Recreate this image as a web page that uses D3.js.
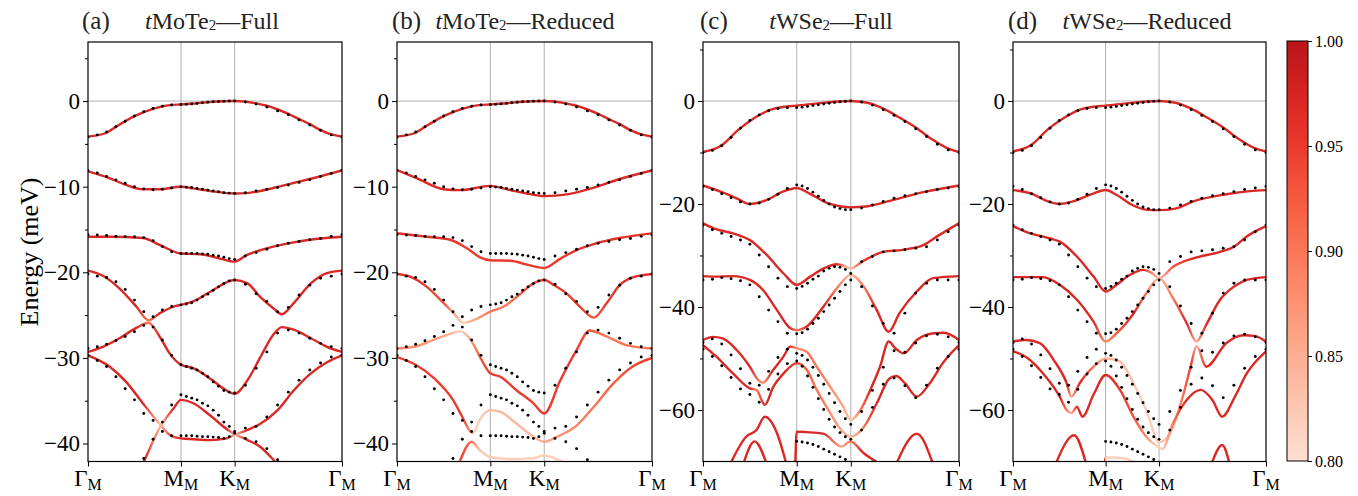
<!DOCTYPE html>
<html><head><meta charset="utf-8">
<script src="https://cdn.jsdelivr.net/npm/d3@7"></script>
<style>body{margin:0;background:#fff}</style>
</head><body>
<svg id="chart" width="1358" height="496"></svg>
<script>
// ---------------- DATA ----------------
// k-path index u: 0 = Γ, 10 = M, 20 = K, 30 = Γ (10 DFT k-points per segment)
const kTickIdx = [0, 10, 20, 30];
const kTickLabels = ["Γ", "M", "K", "Γ"];
const yTicksMoTe2 = [0, -10, -20, -30, -40];
const yMinorMoTe2 = [5, -5, -15, -25, -35];
const yTicksWSe2 = [0, -20, -40, -60];
const yMinorWSe2 = [10, -10, -30, -50];
const cbarTicks = [0.80, 0.85, 0.90, 0.95, 1.00];
const panelTags = ["(a)", "(b)", "(c)", "(d)"];
const panelMaterial = ["MoTe", "MoTe", "WSe", "WSe"];
const panelModel = ["Full", "Reduced", "Full", "Reduced"];

// DFT dots (energy in meV at u = 0..30), shared by Full / Reduced panels
const dotsMoTe2_1 = [-4.2,-3.95,-3.6,-3.0,-2.35,-1.75,-1.25,-0.85,-0.6,-0.45,-0.4,-0.38,-0.33,-0.27,-0.2,-0.14,-0.08,-0.04,-0.01,0,0,-0.1,-0.35,-0.7,-1.15,-1.6,-2.2,-2.8,-3.4,-3.95,-4.2];
const dotsMoTe2_2 = [-8.1,-8.4,-8.8,-9.2,-9.6,-10.0,-10.25,-10.35,-10.3,-10.15,-10.0,-10.05,-10.1,-10.2,-10.3,-10.4,-10.5,-10.6,-10.7,-10.75,-10.8,-10.7,-10.5,-10.3,-10.1,-9.8,-9.5,-9.2,-8.8,-8.45,-8.1];
const dotsMoTe2_3 = [-15.6,-15.65,-15.7,-15.8,-15.85,-15.85,-15.95,-16.3,-17.0,-17.6,-17.8,-17.8,-17.8,-17.8,-17.85,-17.9,-18.0,-18.1,-18.25,-18.4,-18.5,-18.1,-17.7,-17.3,-16.9,-16.6,-16.4,-16.2,-16.05,-15.8,-15.6];
const dotsMoTe2_4 = [-20.2,-20.45,-20.6,-21.1,-22.0,-23.25,-24.6,-25.2,-24.4,-24.0,-23.8,-23.7,-23.55,-23.25,-22.85,-22.55,-22.1,-21.7,-21.3,-21.0,-20.9,-21.4,-22.5,-23.4,-24.6,-24.1,-22.65,-21.5,-20.7,-20.45,-20.2];
const dotsMoTe2_5 = [-28.9,-28.7,-28.4,-28.0,-27.5,-26.95,-26.2,-26.4,-27.9,-29.7,-30.8,-31.0,-31.2,-31.4,-31.8,-32.2,-32.8,-33.3,-33.8,-34.0,-34.1,-33.2,-31.2,-29.3,-27.1,-26.75,-27.1,-27.7,-28.3,-28.7,-28.9];
const dotsMoTe2_6 = [-29.7,-30.3,-31.0,-32.2,-33.6,-34.9,-36.5,-37.3,-38.6,-39.1,-39.1,-39.1,-39.1,-39.15,-39.2,-39.2,-39.25,-39.3,-39.4,-39.2,-38.8,-38.2,-38.0,-36.9,-35.5,-34.0,-32.6,-31.4,-30.6,-29.9,-29.7];
const dotsMoTe2_7 = [null,null,null,null,null,null,-41.75,-39.5,-37.5,-35.5,-34.3,-34.5,-34.7,-34.9,-35.3,-35.6,-36.1,-36.7,-37.5,-38.0,-38.6,-39.4,-39.8,-40.6,-41.9,null,null,null,null,null,null];

const dotsWSe2_1 = [-10.0,-9.6,-8.7,-7.1,-5.3,-3.8,-2.7,-1.9,-1.45,-1.3,-1.3,-1.2,-1.05,-0.9,-0.75,-0.6,-0.45,-0.3,-0.15,-0.05,0,-0.2,-0.8,-1.7,-2.8,-4.0,-5.4,-6.9,-8.4,-9.5,-10.0];
const dotsWSe2_2 = [-16.6,-17.2,-18.0,-18.8,-19.6,-20.0,-19.8,-19.1,-18.1,-17.0,-16.3,-16.5,-17.0,-17.7,-18.5,-19.3,-20.0,-20.6,-20.9,-21.1,-21.1,-20.8,-20.2,-19.5,-18.9,-18.4,-18.0,-17.6,-17.2,-16.9,-16.6];
const dotsWSe2_3 = [-24.1,-25.0,-25.7,-26.3,-27.0,-27.8,-29.9,-32.2,-34.4,-36.05,-36.4,-36.0,-35.4,-34.6,-34.0,-33.0,-32.5,-32.2,-32.3,-32.7,-33.5,-31.2,-30.2,-29.3,-29.1,-28.9,-28.6,-28.3,-27.0,-25.4,-24.1];
const dotsWSe2_4 = [-34.75,-34.6,-34.3,-34.5,-34.9,-35.7,-38.0,-40.6,-42.85,-45.1,-45.2,-45.0,-44.3,-43.2,-42.2,-40.9,-39.6,-38.3,-37.0,-35.7,-34.75,-36.05,-39.8,-43.2,-45.1,-41.2,-37.3,-35.4,-34.75,-34.75,-34.75];
const dotsWSe2_5 = [-46.9,-46.2,-47.2,-49.3,-52.0,-54.8,-55.2,-52.5,-49.8,-48.2,-49.0,-49.4,-50.3,-51.7,-53.3,-55.0,-56.8,-58.6,-60.3,-61.7,-62.8,-60.3,-56.2,-51.7,-48.5,-48.8,-47.0,-45.6,-45.3,-45.8,-46.9];
const dotsWSe2_6 = [-48.2,-49.6,-51.4,-53.7,-55.9,-57.0,-58.5,-56.0,-53.0,-51.0,-50.5,-51.5,-53.4,-55.6,-57.8,-59.9,-61.8,-63.3,-64.4,-65.2,-65.7,-63.9,-59.5,-55.0,-53.8,-55.3,-57.6,-55.2,-51.9,-49.6,-48.2];
const dotsWSe2_7 = [null,null,null,null,null,null,null,null,null,null,-66.1,-66.2,-66.4,-66.7,-67.1,-67.6,-68.1,-68.6,-69.1,-69.6,null,null,null,null,null,null,null,null,null,null,null];

// Model bands: [u, energy (meV), weight (colour value 0.8..1)]
const bandsA = [
 [[0,-4.15],[2,-3.7],[3,-3.0],[5,-1.75],[7,-0.9],[9,-0.45],[10,-0.4],[13,-0.25],[16,-0.08],[20,0],[22,-0.27],[23,-0.55],[25,-1.5],[26,-2.1],[27,-2.7],[28,-3.4],[29,-3.9],[30,-4.15]],
 [[0,-8.2],[2.3,-9.0],[4.1,-9.8],[5.9,-10.3],[7.7,-10.3],[10,-10.0],[12.3,-10.2],[15.4,-10.5],[20,-10.8],[21.1,-10.75],[22.4,-10.5],[24.4,-9.9],[27,-9.1],[30,-8.1]],
 [[0,-15.85],[2.3,-15.85],[5.9,-16.0],[7.7,-16.8],[10,-17.8],[13.6,-17.9],[17.3,-18.4],[20,-18.75],[21.1,-18.0],[23,-17.2],[25.5,-16.5],[27,-16.2],[30,-15.85]],
 [[0,-19.8],[1.6,-20.4],[3.4,-21.9],[5.2,-24],[6.5,-25.6,0.9],[7.7,-24.8],[9.2,-24.0],[10,-23.8],[12.3,-23.4],[15.4,-22.3],[20,-20.9],[21.2,-21.3],[22.4,-22.9],[23.6,-24.2],[24.4,-24.9],[25.5,-23.6],[27.1,-21.3],[28.6,-20.1],[30,-19.8]],
 [[0,-29.3],[1.6,-28.7],[3.4,-27.7],[5.2,-26.5],[6.5,-25.9,0.9],[7.7,-27.5],[8.8,-29.5],[10,-30.8],[12.3,-31.2],[15.4,-32.4],[18.5,-33.8],[20,-34.2],[21.2,-32.6],[22.4,-29.9],[23.6,-27.3],[24.4,-26.4],[25.5,-26.7],[27.1,-27.7],[28.6,-28.7],[30,-29.3]],
 [[0,-29.7],[2.3,-31],[4.1,-32.8],[5.9,-35.3],[7.7,-37.7,0.84],[8.8,-39,0.93],[10,-39.4],[12.3,-39.5],[15.4,-39.6],[18.5,-39.4],[20,-39,0.84],[21.2,-38.4],[22.4,-37.7],[24,-36.1],[25.5,-33.8],[27.1,-31.8],[28.6,-30.5],[30,-29.7]],
 [[5.6,-43.1],[6.1,-41.9],[7.8,-38,0.84],[9.2,-35.9],[10,-34.9],[12.3,-35.3],[15.4,-36.7],[18.5,-38.3],[20,-38.9,0.84],[21.2,-39.6],[22.4,-40.4],[23.6,-41.9],[24.3,-42.9]]
];
const bandsB = [
 [[0,-4.15],[2,-3.7],[3,-3.0],[5,-1.75],[7,-0.9],[9,-0.45],[10,-0.4],[13,-0.25],[16,-0.08],[20,0],[22,-0.27],[23,-0.55],[25,-1.5],[26,-2.1],[27,-2.7],[28,-3.4],[29,-3.9],[30,-4.15]],
 [[0,-8.05],[2.1,-9.0],[5,-10.3],[6.8,-10.4],[10,-9.9],[13.7,-10.4],[16.8,-10.8],[20,-11.1],[22.1,-10.9],[24.6,-10.1],[27,-9.1],[30,-8.1]],
 [[0,-15.45,0.96],[3.2,-15.85,0.96],[5.7,-16.2,0.96],[7.5,-17.2,0.95],[8.9,-18.25,0.95],[10,-18.6,0.95],[13.7,-18.65,0.95],[16.8,-19.1,0.95],[20,-19.5,0.95],[21.5,-18.4,0.95],[23,-17.4,0.96],[24.6,-16.7,0.96],[27,-16.0,0.96],[30,-15.45,0.96]],
 [[0,-20.2,0.96],[1.4,-20.5,0.96],[3.2,-21.7,0.95],[5,-23.6,0.93],[6.1,-24.8,0.86],[7.1,-25.9,0.82],[8.2,-25.6,0.86],[10,-24.6,0.9],[12.5,-24.0,0.9],[15.6,-22.5,0.92],[18,-21.3,0.94],[20,-20.9,0.95],[20.9,-21.5,0.95],[22.1,-22.5,0.95],[23.3,-24.0,0.95],[24.6,-25.3,0.93],[25.8,-23.6,0.95],[27,-21.5,0.96],[28.2,-20.6,0.96],[30,-20.2,0.96]],
 [[0,-28.9,0.88],[1.8,-28.7,0.88],[3.9,-27.9,0.87],[5.4,-27.3,0.85],[6.8,-26.9,0.82],[7.9,-27.9,0.86],[8.9,-29.9,0.93],[10,-31.8,0.95],[11.85,-32.2,0.95],[14.9,-33.8,0.95],[18,-35.3,0.95],[20,-36.5,0.95],[21.5,-32.6,0.95],[23,-29.1,0.95],[24.2,-26.8,0.93],[25.8,-27.5,0.9],[27.6,-28.5,0.9],[30,-28.9,0.9]],
 [[0,-29.9,0.95],[2,-30.8,0.95],[4,-32.4,0.95],[6,-34.9,0.95],[7,-36.9,0.95],[7.86,-38.6,0.88],[8.14,-38.8,0.82],[8.93,-37.1,0.82],[10,-36.1,0.84],[11.85,-36.3,0.84],[14.9,-37.7,0.84],[18,-39.2,0.84],[20,-39.8,0.85],[21.2,-39.2,0.87],[23,-37.9,0.89],[24.6,-35.7,0.9],[26.4,-33.0,0.92],[28.2,-31.0,0.94],[30,-30,0.95]],
 [[6.8,-41.9,0.95],[8,-39.8,0.9],[8.9,-40.8,0.83],[10,-41.6,0.82],[13.7,-41.8,0.82],[18,-41.7,0.82],[20,-41.4,0.82],[20.9,-41.7,0.82],[21.8,-42.2,0.82]]
];
const bandsC = [
 [[0,-9.9],[2,-8.6],[3.7,-5.7],[5.4,-3.4],[7.1,-1.76],[8.8,-1.1],[10,-0.9],[13.9,-0.46],[17.6,-0.1],[20,0],[21.4,-0.3],[22.9,-1.4],[24.4,-3.1],[25.9,-5.0],[27.4,-7.3],[29,-9.25],[30,-9.9]],
 [[0,-16.4],[2,-17.7],[3.7,-19.0],[5,-20],[6.7,-19.3],[8.4,-17.7],[10,-16.9],[12.4,-18.0],[16.1,-20.0],[20,-20.65],[21.4,-20.5],[23.7,-19.35],[26.7,-17.7],[30,-16.4]],
 [[0,-23.75],[1.4,-24.9],[3.2,-25.7],[5,-27.0],[6.8,-29.9],[8.6,-33.5],[10,-35.7],[12.5,-34.1],[15,-32.5],[17.4,-31.7],[19.2,-32.2,0.85],[19.9,-32.5,0.83],[21.2,-31.0,0.95],[23,-29.3],[24.8,-28.9],[26.7,-28.0],[28.2,-26.0],[30,-23.75]],
 [[0,-34.0],[1.4,-34.1],[3.2,-34.0],[5,-34.75],[6.4,-36.7],[7.9,-40.6],[9.3,-44.1],[10,-44.5,0.9],[11.85,-43.8],[14.9,-40],[17.4,-36.4,0.9],[20,-33.8,0.83],[21.2,-36.05,0.9],[22.4,-40.6],[23.5,-44.8],[24.5,-41.2],[26.1,-37.0],[27.6,-34.4],[30,-34.0]],
 [[0,-46.4],[1.07,-45.8],[2.1,-46.1],[3.6,-48.35],[5,-51.6],[5.9,-54.2,0.9],[6.4,-54.7,0.88],[7.5,-52.2],[8.6,-49.6],[9.3,-47.7],[10,-48.0,0.88],[11.85,-48.7,0.9],[13.7,-51.6,0.9],[16.2,-55.5,0.88],[18.6,-59.35,0.86],[20,-61.9,0.83],[20.9,-60,0.9],[21.8,-56.1],[22.7,-51.6],[23.5,-46.7],[24.1,-48.0],[24.9,-49.0],[26.1,-46.4],[27.7,-45.1],[28.6,-45.0],[30,-46.4]],
 [[0,-47.4],[1.4,-49.6],[3.2,-52.9],[5,-55.8],[5.7,-56.1,0.9],[6.6,-59.0],[7.5,-55.5],[8.6,-52.9],[10,-50.9,0.95],[11.85,-52.2,0.92],[13.7,-56.1,0.9],[16.2,-60.6,0.88],[18,-63.6,0.86],[20,-65.2,0.84],[21.2,-63.3,0.9],[22.4,-58.7],[23.6,-53.85],[24.2,-53.4],[25,-54.8],[26.1,-57.4],[27.3,-54.8],[28.5,-50.9],[30,-47.4]],
 [[2.9,-70.5],[4.6,-65.2],[5.7,-63.9],[6.6,-61.3],[7.9,-64.5],[8.9,-70.5]],
 [[4.3,-70.5],[5.5,-66.1],[6.8,-70.5]],
 [[9.85,-70.5],[10,-64.2],[11.85,-64.3],[14.9,-64.6],[18.3,-67.1,0.85],[19.9,-66.1,0.9],[21.2,-68.4],[22.7,-70.5]],
 [[24.2,-70.5],[26.1,-64.6],[27.6,-70.5]]
];
const bandsD = [
 [[0,-9.8],[2,-8.5],[3.7,-5.6],[5.4,-3.4],[7.1,-1.76],[8.8,-1.1],[10,-0.9],[13.9,-0.46],[17.6,-0.1],[20,0],[21.4,-0.3],[22.9,-1.4],[24.4,-3.1],[25.9,-5.0],[27.4,-7.3],[29,-9.2],[30,-9.8]],
 [[0,-17.3],[2,-18.0],[3.5,-19.3],[5.05,-20.0],[6.5,-19.5],[8.5,-18.1],[10,-17.3],[12,-18.2],[15,-20.2],[17.5,-21.1],[20,-21.2],[21.5,-20.9],[23.2,-19.5],[26.3,-18.1],[28.5,-17.5],[30,-17.3]],
 [[0,-24.3],[1.4,-25.4],[4,-26.7],[5.05,-27.3],[6.9,-30.2],[8.7,-34.1],[10,-37.0],[12.05,-35.7],[14.5,-33.8],[17,-32.8],[18.8,-33.5,0.88],[20,-34.4,0.83],[21.3,-32.2,0.93],[23.2,-30.55],[25.7,-29.3],[27,-28.3],[28.2,-26.3],[30,-24.3]],
 [[0,-34.2],[3.25,-34.2],[5.05,-35.7],[6.9,-38.6],[8.7,-42.85],[10,-46.7,0.88],[12.05,-45.1,0.92],[15.2,-41.3],[17.6,-37.35,0.9],[20,-34.4,0.83],[21.3,-38.3,0.9],[22.6,-43.2],[23.5,-46.7,0.85],[24.4,-43.5],[25.7,-38.6],[27,-36.05],[28.2,-34.75],[30,-34.2]],
 [[0,-46.7],[1.4,-46.4],[2.9,-47.0],[4.4,-50.3],[5.8,-54.8],[6.3,-57.4,0.85],[7.2,-54.8],[8.7,-51.6,0.9],[10,-50.0,0.84],[12.7,-50.6,0.84],[15.2,-54.8,0.83],[17.6,-60.0,0.82],[20,-66.3,0.82],[21,-64.6,0.84],[22.2,-57.5,0.9],[23,-51.2,0.95],[23.5,-47.6,0.85],[24.4,-51.6],[26.3,-47.0],[27.9,-45.5],[28.9,-45.6],[30,-46.7]],
 [[0,-48.6],[1.4,-49.7],[3.25,-52.9],[5.05,-57.4],[5.8,-60.0,0.9],[6.3,-60.6,0.85],[6.9,-59.4],[7.5,-61.3],[8.7,-57.0],[10,-53.2],[12.7,-56.1,0.95],[15.2,-61.3,0.93],[17.6,-65.2,0.88],[19.3,-66.8,0.82],[20.3,-67.6,0.82],[21.3,-62.6,0.9],[22.6,-58.0],[23.9,-56.1],[25,-58.1],[25.9,-61.3],[27.1,-57.4],[28.2,-52.9],[30,-48.6]],
 [[4.6,-70.5],[6.6,-64.9],[7.9,-70.5]],
 [[9.9,-70.5],[10,-69.2,0.82],[13.7,-69.4,0.82],[15.7,-70.5,0.82]],
 [[24.9,-70.5],[25.9,-66.8],[26.6,-70.5]]
];

const dotsMoTe2 = [dotsMoTe2_1, dotsMoTe2_2, dotsMoTe2_3, dotsMoTe2_4, dotsMoTe2_5, dotsMoTe2_6, dotsMoTe2_7];
const dotsWSe2 = [dotsWSe2_1, dotsWSe2_2, dotsWSe2_3, dotsWSe2_4, dotsWSe2_5, dotsWSe2_6, dotsWSe2_7];

// ---------------- LAYOUT ----------------
const FONT = "'Liberation Serif', 'Times New Roman', serif";
const layout = {
  top: 42, bottom: 461.5,
  panels: [
    {x0: 88, x1: 342, tagX: 82, titleX: 212, yDomain: [-42.1, 6.9], ticks: yTicksMoTe2, minor: yMinorMoTe2, bands: bandsA, dots: dotsMoTe2},
    {x0: 397, x1: 652, tagX: 392, titleX: 525, yDomain: [-42.1, 6.9], ticks: yTicksMoTe2, minor: yMinorMoTe2, bands: bandsB, dots: dotsMoTe2},
    {x0: 703, x1: 959, tagX: 700, titleX: 831, yDomain: [-70, 11.45], ticks: yTicksWSe2, minor: yMinorWSe2, bands: bandsC, dots: dotsWSe2},
    {x0: 1013, x1: 1266, tagX: 1008, titleX: 1147, yDomain: [-70, 11.45], ticks: yTicksWSe2, minor: yMinorWSe2, bands: bandsD, dots: dotsWSe2}
  ],
  cbar: {x: 1287, y: 41, w: 21, h: 420}
};
const kFrac = [0, 0.866/2.366, 1.366/2.366, 1];
const colorOf = v => d3.interpolateReds(0.12 + (Math.max(0.8, Math.min(1, v)) - 0.8) / 0.2 * 0.68);
const fmt = v => (v < 0 ? "\u2212" : "") + Math.abs(v);

const svg = d3.select("#chart");
const defs = svg.append("defs");

layout.panels.forEach((p, pi) => {
  const w = p.x1 - p.x0;
  const x = d3.scaleLinear().domain(kTickIdx).range(kFrac.map(f => p.x0 + f * w));
  const y = d3.scaleLinear().domain(p.yDomain).range([layout.bottom, layout.top]);
  const g = svg.append("g");

  defs.append("clipPath").attr("id", "clip" + pi)
    .append("rect").attr("x", p.x0).attr("y", layout.top).attr("width", w).attr("height", layout.bottom - layout.top);

  // grid lines
  g.selectAll(".vg").data([10, 20]).join("line")
    .attr("x1", d => x(d)).attr("x2", d => x(d)).attr("y1", layout.top).attr("y2", layout.bottom)
    .attr("stroke", "#b0b0b0").attr("stroke-width", 1);
  g.append("line").attr("x1", p.x0).attr("x2", p.x1).attr("y1", y(0)).attr("y2", y(0))
    .attr("stroke", "#b0b0b0").attr("stroke-width", 1);

  const plot = g.append("g").attr("clip-path", `url(#clip${pi})`);
  const line = d3.line().x(d => x(d[0])).y(d => y(d[1])).curve(d3.curveMonotoneX);

  p.bands.forEach((band, bi) => {
    const gid = `grad${pi}_${bi}`;
    const xa = x(band[0][0]), xb = x(band[band.length - 1][0]);
    const grad = defs.append("linearGradient").attr("id", gid)
      .attr("gradientUnits", "userSpaceOnUse")
      .attr("x1", xa).attr("x2", xb).attr("y1", 0).attr("y2", 0);
    band.forEach(d => {
      grad.append("stop").attr("offset", (x(d[0]) - xa) / (xb - xa))
        .attr("stop-color", colorOf(d[2] === undefined ? 0.97 : d[2]));
    });
    plot.append("path").attr("d", line(band)).attr("fill", "none")
      .attr("stroke", `url(#${gid})`).attr("stroke-width", 2.4).attr("stroke-linecap", "round");
  });

  p.dots.forEach(arr => {
    plot.selectAll(null).data(arr.map((e, i) => [i, e]).filter(d => d[1] !== null)).join("circle")
      .attr("cx", d => x(d[0])).attr("cy", d => y(d[1])).attr("r", 1.45).attr("fill", "#000");
  });

  // axes
  const yAxis = g.append("g").attr("transform", `translate(${p.x0},0)`)
    .call(d3.axisLeft(y).tickValues(p.ticks).tickFormat(fmt).tickSize(5).tickPadding(3));
  const yMinor = g.append("g").attr("transform", `translate(${p.x0},0)`)
    .call(d3.axisLeft(y).tickValues(p.minor).tickFormat("").tickSize(3));
  const xAxis = g.append("g").attr("transform", `translate(0,${layout.bottom})`)
    .call(d3.axisBottom(x).tickValues(kTickIdx).tickFormat("").tickSize(5));
  [yAxis, yMinor, xAxis].forEach(a => {
    a.select(".domain").remove();
    a.selectAll("line").attr("stroke", "#000").attr("stroke-width", 1);
  });
  yAxis.selectAll("text").attr("font-family", FONT).attr("font-size", 23).attr("fill", "#000");

  // x tick labels Γ_M etc.
  kTickIdx.forEach((u, i) => {
    const t = g.append("text").attr("x", x(u)).attr("y", 486).attr("text-anchor", "middle")
      .attr("font-family", FONT).attr("font-size", 23).attr("fill", "#000");
    t.append("tspan").text(kTickLabels[i]);
    t.append("tspan").attr("font-size", 16).attr("dy", 4).text("M");
  });

  // frame
  g.append("rect").attr("x", p.x0).attr("y", layout.top).attr("width", w).attr("height", layout.bottom - layout.top)
    .attr("fill", "none").attr("stroke", "#000").attr("stroke-width", 1.2);

  // titles
  g.append("text").attr("x", p.tagX).attr("y", 29).attr("font-family", FONT).attr("font-size", 25)
    .attr("fill", "#222").text(panelTags[pi]);
  const tt = g.append("text").attr("x", p.titleX).attr("y", 29).attr("text-anchor", "middle")
    .attr("font-family", FONT).attr("font-size", 24).attr("fill", "#222");
  tt.append("tspan").attr("font-style", "italic").text("t");
  tt.append("tspan").text(panelMaterial[pi]);
  tt.append("tspan").attr("font-size", 15).attr("dy", 1).text("2");
  tt.append("tspan").attr("dy", -1).text("\u2014" + panelModel[pi]);
});

// y label
svg.append("text").attr("transform", "translate(38,252) rotate(-90)").attr("text-anchor", "middle")
  .attr("font-family", FONT).attr("font-size", 26).attr("fill", "#000").text("Energy (meV)");

// colorbar
const cb = layout.cbar;
const cgrad = defs.append("linearGradient").attr("id", "cbgrad").attr("x1", 0).attr("x2", 0).attr("y1", 1).attr("y2", 0);
d3.range(0, 1.0001, 0.05).forEach(t => {
  cgrad.append("stop").attr("offset", t).attr("stop-color", colorOf(0.8 + 0.2 * t));
});
svg.append("rect").attr("x", cb.x).attr("y", cb.y).attr("width", cb.w).attr("height", cb.h)
  .attr("fill", "url(#cbgrad)").attr("stroke", "#000").attr("stroke-width", 1);
const cy = d3.scaleLinear().domain([0.8, 1.0]).range([cb.y + cb.h, cb.y]);
const cAxis = svg.append("g").attr("transform", `translate(${cb.x + cb.w},0)`)
  .call(d3.axisRight(cy).tickValues(cbarTicks).tickFormat(d3.format(".2f")).tickSize(4).tickPadding(3));
cAxis.select(".domain").remove();
cAxis.selectAll("line").attr("stroke", "#000");
cAxis.selectAll("text").attr("font-family", FONT).attr("font-size", 16).attr("fill", "#000");
</script>
</body></html>
